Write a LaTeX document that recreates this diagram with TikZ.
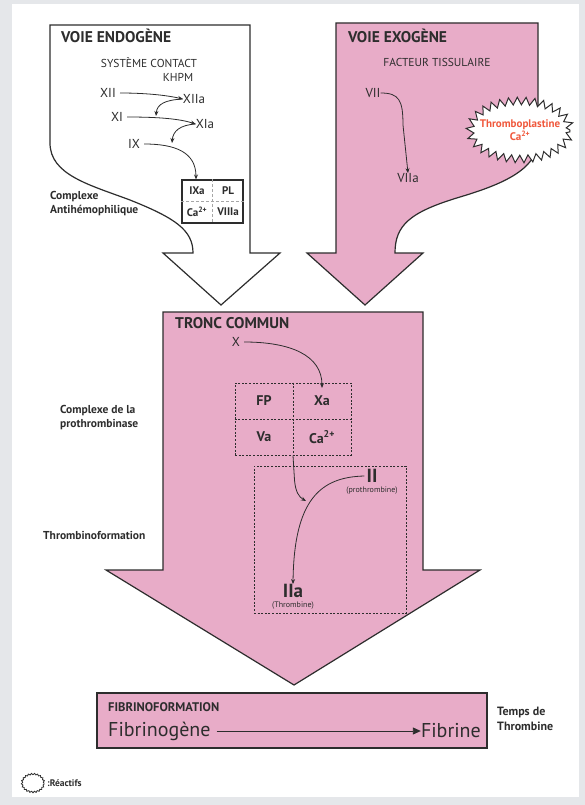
\documentclass[tikz,border=0pt]{standalone}
\usepackage{fontspec}
\setmainfont{PT Sans}
\usetikzlibrary{shapes.geometric,arrows.meta,decorations.pathmorphing}
\definecolor{pinkf}{RGB}{232,172,200}
\definecolor{edgec}{RGB}{45,45,45}
\definecolor{bgg}{RGB}{229,231,234}
\definecolor{redt}{RGB}{240,88,60}
\begin{document}
\begin{tikzpicture}[x=1pt,y=-1pt,
  every node/.style={inner sep=0pt, text=edgec},
  outl/.style={draw=edgec, line width=1.2pt, line join=miter},
  conn/.style={draw=edgec, line width=0.8pt, -{Stealth[length=5pt,width=4pt]}},
  title/.style={font=\fontsize{15.5}{18}\selectfont\bfseries, anchor=west},
  small/.style={font=\fontsize{11.5}{13}\selectfont},
  fac/.style={font=\fontsize{13}{15}\selectfont},
  cell/.style={font=\fontsize{11}{13}\selectfont\bfseries},
  cellb/.style={font=\fontsize{14}{16}\selectfont\bfseries},
  side/.style={font=\fontsize{11.5}{14}\selectfont\bfseries, anchor=west, align=left},
  big/.style={font=\fontsize{19}{21}\selectfont\bfseries},
  tiny/.style={font=\fontsize{8}{9}\selectfont},
  dgrid/.style={draw=edgec, line width=1pt, dash pattern=on 2pt off 1.6pt},
  burst/.style n args={2}{ellipse, draw=edgec, decorate, decoration={zigzag, segment length=#1, amplitude=#2}},
]
\fill[bgg] (0,0) rectangle (585,805);
\fill[white] (12,4) rectangle (579,797);
\useasboundingbox (0,0) rectangle (585,805);

% ---- Voie endogene arrow
\path[outl, fill=white] (50,25) -- (250,25) -- (250,253) -- (280,253) -- (221,305) -- (163,253) -- (193,253)
  .. controls (193,230) and (175,218) .. (130,200)
  .. controls (90,185) and (50,175) .. (50,143) -- cycle;
% ---- Voie exogene arrow
\path[outl, fill=pinkf] (336,23) -- (538,23) -- (538,140)
  .. controls (538,170) and (500,185) .. (460,197)
  .. controls (410,212) and (395,225) .. (395,253)
  -- (423,253) -- (365,305) -- (307,253) -- (336,253) -- cycle;
% ---- Tronc commun arrow
\path[outl, fill=pinkf] (163,312) -- (423,312) -- (423,570) -- (480,570) -- (294,685) -- (106,570) -- (163,570) -- cycle;
% ---- Fibrinoformation box
\node[outl, fill=pinkf, minimum width=390pt, minimum height=55pt] (fib) at (292,720.5) {};

% ===== Endogene content
\node[title] (tend) at (61,36) {VOIE ENDOGÈNE};
\node[small] (sys) at (149,63) {SYSTÈME CONTACT};
\node[small] (khpm) at (178,77) {KHPM};
\node[fac] (xii) at (108,93) {XII};
\node[fac] (xiia) at (194,99) {XIIa};
\node[fac] (xi) at (117,117) {XI};
\node[fac] (xia) at (205,124) {XIa};
\node[fac] (ix) at (134,144) {IX};
\coordinate (c1) at (156,116);
\coordinate (c2) at (172,143);
\draw[conn] (xii.east) ++(4,0) .. controls (150,93) and (170,96) .. (xiia.west);
\draw[conn] (xiia.west) .. controls (165,100) and (157,104) .. (c1);
\draw[conn] (xi.east) ++(4,0) .. controls (160,117) and (180,119) .. (xia.west);
\draw[conn] (xia.west) .. controls (180,125) and (173,131) .. (c2);
\node[draw=edgec, line width=1.1pt, fill=white, minimum width=61pt, minimum height=43pt] (cxa) at (212.5,201.5) {};
\draw[gray!70, line width=0.8pt, densely dashed] (cxa.north) -- (cxa.south);
\draw[gray!70, line width=0.8pt, densely dashed] (cxa.west) -- (cxa.east);
\draw[conn] (ix.east) ++(4,0) .. controls (175,144) and (196,152) .. (cxa.north -| 196,0);
\node[cell] (ixa) at (197,191) {IXa};
\node[cell] (pl) at (228,191) {PL};
\node[cell] (caa) at (197,212) {Ca\textsuperscript{2+}};
\node[cell] (viiia) at (228,212) {VIIIa};
\node[side] (canti) at (50,204) {Complexe\\Antihémophilique};

% ===== Exogene content
\node[title] (texo) at (348,36) {VOIE EXOGÈNE};
\node[small] (ft) at (437,62) {FACTEUR TISSULAIRE};
\node[fac] (vii) at (373,93) {VII};
\node[fac] (viia) at (408,178) {VIIa};
\draw[conn] (vii.east) .. controls (399,93) and (403,100) .. (403,125) -- (viia.north);
\node[burst={8.5pt}{3.8pt}, line width=1pt, fill=white, minimum width=100pt, minimum height=58pt] (tp) at (520,130) {};
\node[font=\fontsize{11}{12.5}\selectfont\bfseries, text=redt, align=center] (tpt) at (tp.center)
  {Thromboplastine\\Ca\textsuperscript{2+}};

% ===== Tronc commun content
\node[title] (ttc) at (175,323) {TRONC COMMUN};
\node[fac] (x) at (236,342) {X};
\node[dgrid, minimum width=116pt, minimum height=72pt] (pc) at (293,419) {};
\draw[dgrid] (pc.north) -- (pc.south);
\draw[dgrid] (pc.west) -- (pc.east);
\node[cellb] (fp) at (264,401) {FP};
\node[cellb] (xa) at (322,401) {Xa};
\node[cellb] (va) at (264,437) {Va};
\node[cellb] (cab) at (322,437) {Ca\textsuperscript{2+}};
\coordinate (xat) at (322,388);
\draw[conn] (x.east) ++(4,0) .. controls (290,342) and (322,355) .. (xat);
\node[dgrid, minimum width=152pt, minimum height=147pt] (tb) at (330,539.5) {};
\node[big] (ii) at (372,476) {II};
\node[tiny] (pro) at (372,491) {(prothrombine)};
\node[big] (iia) at (293,591) {IIa};
\node[tiny] (thr) at (293,606) {(Thrombine)};
\coordinate (meet) at (306,501);
\draw[conn] (pc.south) -- (294.5,480) .. controls (295.5,492) and (299,497) .. (meet);
\draw[conn] (ii.west) ++(-2,0) .. controls (320,477) and (294,500) .. (iia.north);
\node[side] (cpro) at (60,418) {Complexe de la\\prothrombinase};
\node[side] (tform) at (43,535) {Thrombinoformation};

% ===== Fibrinoformation
\node[font=\fontsize{12.5}{14}\selectfont\bfseries, anchor=west] (tfib) at (108,707) {FIBRINOFORMATION};
\node[font=\fontsize{20}{22}\selectfont, anchor=west] (fgene) at (108,731) {Fibrinogène};
\node[font=\fontsize{20}{22}\selectfont, anchor=east] (fbr) at (481,731) {Fibrine};
\draw[draw=edgec, line width=0.9pt, -{Triangle[length=8pt,width=7pt]}] (fgene.east) ++(6,0) -- (fbr.west);
\node[side, font=\fontsize{12}{14.5}\selectfont\bfseries] (tps) at (497,719) {Temps de\\Thrombine};

% ===== Legend
\node[burst={3pt}{0.7pt}, line width=0.8pt, minimum width=22pt, minimum height=18pt] (leg) at (33,783) {};
\node[font=\fontsize{9.5}{11}\selectfont\bfseries, anchor=west] (reac) at (47,783) {:Réactifs};
\end{tikzpicture}
\end{document}
